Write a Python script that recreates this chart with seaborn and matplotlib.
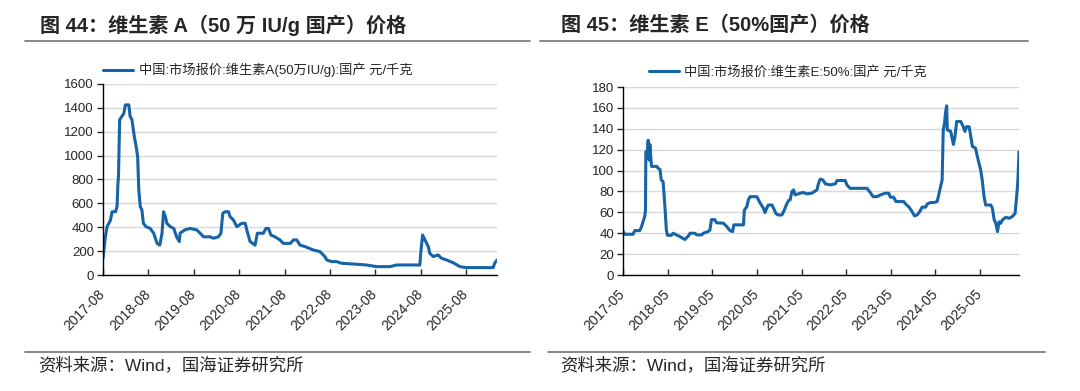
import pandas as pd
import seaborn as sns
import matplotlib.pyplot as plt
from matplotlib.lines import Line2D

# ===========================
# 数据
# ===========================
va_dates = [
    "2017-08-01", "2017-08-20", "2017-09-03", "2017-09-30", "2017-10-13", "2017-11-10",
    "2017-11-22", "2017-11-28", "2017-12-04", "2017-12-13", "2018-01-01", "2018-01-16",
    "2018-01-28", "2018-02-25", "2018-03-07", "2018-03-22", "2018-04-10", "2018-04-25",
    "2018-05-07", "2018-05-16", "2018-05-28", "2018-06-10", "2018-06-22", "2018-07-13",
    "2018-08-16", "2018-09-13", "2018-10-10", "2018-11-01", "2018-11-19", "2018-12-01",
    "2018-12-16", "2018-12-28", "2019-01-25", "2019-02-22", "2019-03-16", "2019-04-07",
    "2019-04-13", "2019-05-22", "2019-07-04", "2019-08-25", "2019-09-22", "2019-10-19",
    "2019-12-10", "2020-01-07", "2020-02-16", "2020-03-07", "2020-03-22", "2020-04-10",
    "2020-05-07", "2020-05-19", "2020-06-16", "2020-07-13", "2020-08-22", "2020-09-19",
    "2020-10-01", "2020-10-28", "2020-12-07", "2020-12-25", "2021-02-12", "2021-03-04",
    "2021-03-25", "2021-04-13", "2021-05-16", "2021-06-25", "2021-07-22", "2021-09-16",
    "2021-10-13", "2021-11-07", "2021-12-04", "2022-01-13", "2022-03-19", "2022-05-13",
    "2022-06-22", "2022-07-07", "2022-08-16", "2022-09-25", "2022-11-04", "2023-02-07",
    "2023-05-22", "2023-08-13", "2023-11-28", "2024-01-19", "2024-04-10", "2024-07-25",
    "2024-08-01", "2024-08-16", "2024-09-04", "2024-10-01", "2024-10-13", "2024-11-10",
    "2024-12-19", "2025-01-16", "2025-02-25", "2025-04-19", "2025-06-13", "2025-08-01",
    "2025-11-19", "2026-03-07", "2026-03-19", "2026-04-07",
]
va_values = [
    140, 320, 405, 460, 530, 530,
    573, 740, 840, 1300, 1330, 1355,
    1425, 1425, 1330, 1300, 1160, 1075,
    990, 713, 573, 545, 433, 405,
    390, 350, 265, 250, 350, 530,
    490, 433, 405, 390, 320, 280,
    350, 378, 390, 378, 350, 320,
    320, 308, 320, 350, 517, 530,
    530, 490, 460, 405, 433, 433,
    378, 280, 250, 350, 350, 390,
    390, 335, 320, 294, 265, 265,
    294, 294, 250, 238, 210, 196,
    154, 126, 112, 112, 98, 92,
    84, 70, 70, 84, 84, 84,
    182, 335, 294, 238, 182, 154,
    168, 140, 126, 103, 70, 62,
    62, 62, 98, 126,
]

ve_dates = [
    "2017-05-01", "2017-05-14", "2017-07-22", "2017-08-05", "2017-09-15", "2017-09-29",
    "2017-10-12", "2017-10-26", "2017-11-01", "2017-11-04", "2017-11-15", "2017-11-23",
    "2017-12-01", "2017-12-07", "2017-12-20", "2018-02-01", "2018-02-14", "2018-02-28",
    "2018-03-10", "2018-03-25", "2018-04-07", "2018-04-21", "2018-04-30", "2018-06-01",
    "2018-06-15", "2018-07-12", "2018-08-09", "2018-09-19", "2018-10-16", "2018-11-01",
    "2018-12-10", "2018-12-25", "2019-02-04", "2019-02-18", "2019-03-28", "2019-04-12",
    "2019-04-25", "2019-05-22", "2019-06-06", "2019-08-01", "2019-08-28", "2019-09-24",
    "2019-10-15", "2019-10-25", "2020-01-12", "2020-01-19", "2020-02-09", "2020-02-21",
    "2020-03-06", "2020-05-01", "2020-05-28", "2020-06-23", "2020-07-06", "2020-07-20",
    "2020-08-03", "2020-09-01", "2020-09-14", "2020-10-03", "2020-10-19", "2020-11-21",
    "2020-12-10", "2020-12-27", "2021-01-15", "2021-01-28", "2021-02-12", "2021-02-25",
    "2021-03-09", "2021-04-19", "2021-05-16", "2021-06-12", "2021-07-24", "2021-09-04",
    "2021-09-18", "2021-10-01", "2021-10-23", "2021-11-12", "2021-12-22", "2022-02-02",
    "2022-02-16", "2022-04-24", "2022-05-07", "2022-06-03", "2022-10-18", "2022-11-15",
    "2022-12-07", "2023-01-10", "2023-02-06", "2023-03-18", "2023-04-15", "2023-04-28",
    "2023-05-25", "2023-06-13", "2023-08-15", "2023-09-01", "2023-09-28", "2023-10-23",
    "2023-11-12", "2023-12-03", "2023-12-25", "2024-01-13", "2024-02-11", "2024-02-24",
    "2024-03-22", "2024-04-18", "2024-05-15", "2024-05-28", "2024-06-12", "2024-06-25",
    "2024-07-04", "2024-07-15", "2024-07-22", "2024-08-01", "2024-08-06", "2024-09-03",
    "2024-09-25", "2024-10-06", "2024-10-22", "2024-11-24", "2024-12-15", "2024-12-28",
    "2025-01-12", "2025-02-01", "2025-02-28", "2025-03-25", "2025-04-09", "2025-05-06",
    "2025-05-19", "2025-06-03", "2025-06-16", "2025-07-28", "2025-08-10", "2025-08-25",
    "2025-09-07", "2025-09-21", "2025-10-04", "2025-10-18", "2025-11-01", "2025-11-28",
    "2025-12-25", "2026-01-21", "2026-02-12", "2026-02-27", "2026-03-07", "2026-03-16",
]
ve_values = [
    42, 39, 39, 42.5, 42.5, 46,
    51, 56, 62, 118, 117, 129,
    110, 125, 104, 104, 102, 101,
    91, 89.5, 69, 43, 38, 38,
    40, 38.4, 36.8, 34, 37, 40,
    40, 38.4, 38.4, 40, 41.6, 43,
    53, 53, 50, 49.6, 46.4, 42.5,
    41.6, 48, 48, 62, 65.5, 72,
    75, 75, 68.7, 64, 59.8, 64,
    67, 67, 64, 59, 57.5, 57.5,
    61.7, 67, 71.3, 72, 80, 81.5,
    76.7, 78.3, 79, 77.7, 78.3, 81.5,
    88, 91.8, 91, 87.3, 86.3, 87.3,
    90.5, 90.5, 86.3, 83, 83, 79,
    75, 75, 76.7, 78.3, 78.3, 74.5,
    74.5, 70.3, 70.3, 68, 65, 60.7,
    56.6, 57.5, 60.7, 65, 65, 68,
    69.4, 69.4, 70.3, 76.7, 84.7, 91,
    139, 145.5, 155, 162, 139, 137.5,
    125, 131, 147, 147, 142, 137.5,
    142, 142, 123, 121.5, 113.5, 100.7,
    91, 75, 67, 67, 64, 52.8,
    49.6, 41.6, 51, 49.6, 52.8, 55.3,
    54.3, 56, 59, 78.3, 91, 118,
]

va_ticks = ["2017-08", "2018-08", "2019-08", "2020-08", "2021-08",
            "2022-08", "2023-08", "2024-08", "2025-08"]
ve_ticks = ["2017-05", "2018-05", "2019-05", "2020-05", "2021-05",
            "2022-05", "2023-05", "2024-05", "2025-05"]

va_label = "中国:市场报价:维生素A(50万IU/g):国产 元/千克"
ve_label = "中国:市场报价:维生素E:50%:国产 元/千克"
va_title = "图 44：维生素 A（50 万 IU/g 国产）价格"
ve_title = "图 45：维生素 E（50%国产）价格"
source = "资料来源：Wind，国海证券研究所"

# ===========================
# 样式
# ===========================
sns.set_style("white")
FONTS = ["Liberation Sans", "Noto Sans CJK SC", "DejaVu Sans"]
plt.rcParams["font.family"] = FONTS
LINE_COLOR = "#1663a8"

W, H = 1080, 391
fig = plt.figure(figsize=(W / 100, H / 100), dpi=100)


def px_box(x0, y_top, x1, y_bot):
    return [x0 / W, 1 - y_bot / H, (x1 - x0) / W, (y_bot - y_top) / H]


def hline(x0, x1, y):
    fig.add_artist(Line2D([x0 / W, x1 / W], [1 - y / H, 1 - y / H],
                          transform=fig.transFigure, color="#7f7f7f", lw=1.3))


def draw_panel(box, dates, values, ticks, label, ymax, ystep, leg_x, leg_y):
    ax = fig.add_axes(box)
    df = pd.DataFrame({"date": pd.to_datetime(dates), "value": values})
    sns.lineplot(data=df, x="date", y="value", ax=ax, color=LINE_COLOR,
                 linewidth=2.2, label=label)

    ax.set_xlim(df["date"].min(), df["date"].max())
    ax.set_ylim(0, ymax)
    ax.set_yticks(range(0, ymax + 1, ystep))
    ax.set_xticks(pd.to_datetime([t + "-01" for t in ticks]))
    ax.set_xticklabels(ticks, rotation=45, ha="right", va="center",
                       rotation_mode="anchor")
    ax.set_xlabel("")
    ax.set_ylabel("")

    ax.yaxis.grid(True, color="#d9d9d9", lw=1.0)
    ax.xaxis.grid(False)
    for s in ["top", "right"]:
        ax.spines[s].set_visible(False)
    for s in ["left", "bottom"]:
        ax.spines[s].set_color("black")
        ax.spines[s].set_linewidth(1.0)
    ax.tick_params(axis="y", direction="out", length=4.5, width=1, pad=2,
                   labelsize=9.5, left=True)
    ax.tick_params(axis="x", direction="in", length=4.5, width=1, pad=12,
                   labelsize=10, bottom=True)

    ax.legend(loc="center left", bbox_to_anchor=(leg_x, leg_y), frameon=False,
              fontsize=9.5, handlelength=2.3, handletextpad=0.4, borderpad=0,
              borderaxespad=0)
    return ax


draw_panel(px_box(103, 84, 497, 275), va_dates, va_values, va_ticks,
           va_label, 1600, 200, 0.0, 1.073)
draw_panel(px_box(623, 87, 1019, 275), ve_dates, ve_values, ve_ticks,
           ve_label, 180, 20, 0.065, 1.08)

# 标题与分隔线
fig.text(40 / W, 1 - 25 / H, va_title, fontsize=14.5, fontweight="bold",
         va="center", ha="left")
fig.text(561 / W, 1 - 25 / H, ve_title, fontsize=14.5, fontweight="bold",
         va="center", ha="left")
hline(25, 530, 41)
hline(540, 1028, 41)
hline(25, 530, 352)
hline(548, 1045, 352)
fig.text(38 / W, 1 - 365 / H, source, fontsize=12.5, va="center", ha="left")
fig.text(560 / W, 1 - 365 / H, source, fontsize=12.5, va="center", ha="left")

fig.savefig("out.png", dpi=100)
